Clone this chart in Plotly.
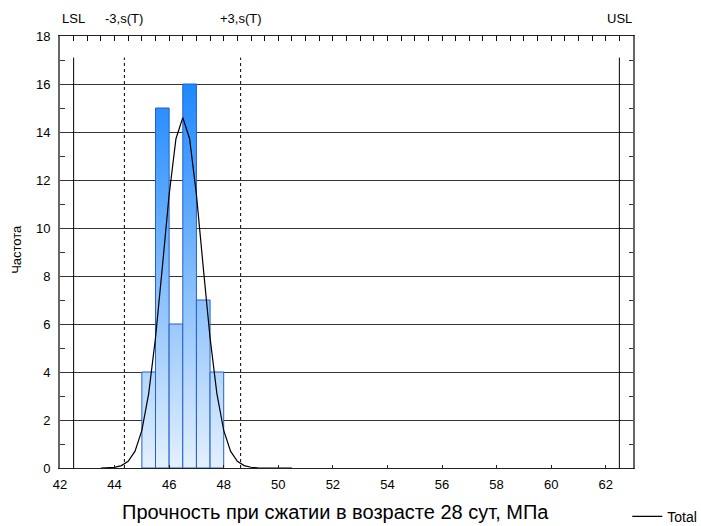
import plotly.graph_objects as go

# ---- data ----
bin_left = [45.0, 45.5, 46.0, 46.5, 47.0, 47.5]
bin_width = 0.5
counts = [4, 15, 6, 16, 7, 4]

curve_x = [43.5, 43.75, 44.0, 44.25, 44.5, 44.75, 45.0, 45.25, 45.5, 45.75, 46.0, 46.25,
           46.5, 46.75, 47.0, 47.25, 47.5, 47.75, 48.0, 48.25, 48.5, 48.75, 49.0, 49.25,
           49.5, 49.75, 50.0, 50.25, 50.5]
curve_y = [0.0, 0.01, 0.03, 0.10, 0.28, 0.70, 1.57, 3.10, 5.42, 8.36, 11.39, 13.72,
           14.6, 13.72, 11.39, 8.36, 5.42, 3.10, 1.57, 0.70, 0.28, 0.10, 0.03, 0.01,
           0.0, 0.0, 0.0, 0.0, 0.0]

spec_names = ["LSL", "-3,s(T)", "+3,s(T)", "USL"]
spec_x = [42.5, 44.36, 48.62, 62.5]
spec_dash = ["solid", "dot", "dot", "solid"]
spec_top = 17.1

x_ticks = [42, 44, 46, 48, 50, 52, 54, 56, 58, 60, 62]
y_ticks = [0, 2, 4, 6, 8, 10, 12, 14, 16, 18]

x_title = "Прочность при сжатии в возрасте 28 сут, МПа"
y_title = "Частота"
legend_name = "Total"

FONT = "Arial, Liberation Sans, sans-serif"
EDGE = "rgb(35,95,205)"

fig = go.Figure()

# each bar: gradient-filled rectangle built from the bin data
for xl, c in zip(bin_left, counts):
    xr = xl + bin_width
    fig.add_trace(go.Scatter(
        x=[xl, xl, xr, xr, xl], y=[0, c, c, 0, 0], mode="lines", fill="toself",
        line=dict(width=1, color=EDGE),
        fillgradient=dict(type="vertical", start=0, stop=16,
                          colorscale=[[0, "rgb(228,240,253)"], [1, "rgb(30,136,255)"]]),
        showlegend=False, hoverinfo="skip"))

# spec lines
for nm, sx, dsh in zip(spec_names, spec_x, spec_dash):
    fig.add_trace(go.Scatter(x=[sx, sx], y=[0, spec_top], mode="lines",
                             line=dict(color="black", width=1, dash=dsh),
                             showlegend=False, hoverinfo="skip"))
    fig.add_annotation(x=sx, y=1.04, xref="x", yref="paper", text=nm,
                       showarrow=False, font=dict(family=FONT, size=13, color="black"),
                       xanchor="center", yanchor="middle")

# normal curve
fig.add_trace(go.Scatter(x=curve_x, y=curve_y, mode="lines", name=legend_name,
                         line=dict(color="black", width=1.2)))

# transparent copy on the frame axes so the top and right axes get drawn
fig.add_trace(go.Scatter(x=curve_x, y=curve_y, xaxis="x2", yaxis="y2", mode="lines",
                         line=dict(color="rgba(0,0,0,0)", width=0), opacity=0,
                         showlegend=False, hoverinfo="skip"))

fig.add_annotation(x=0.48, y=-0.102, xref="paper", yref="paper", text=x_title,
                   showarrow=False, font=dict(family=FONT, size=20, color="black"),
                   xanchor="center", yanchor="middle")
fig.add_annotation(x=-0.075, y=0.505, xref="paper", yref="paper", text=y_title,
                   textangle=-90, showarrow=False,
                   font=dict(family=FONT, size=13, color="black"),
                   xanchor="center", yanchor="middle")

fig.update_layout(
    width=701, height=526,
    margin=dict(l=60, r=68, t=36, b=58, autoexpand=False),
    paper_bgcolor="white", plot_bgcolor="white",
    font=dict(family=FONT, size=13, color="black"),
    showlegend=True,
    legend=dict(x=0.99, y=-0.113, xanchor="left", yanchor="middle",
                font=dict(family=FONT, size=14, color="black"),
                bgcolor="rgba(0,0,0,0)", borderwidth=0),
    xaxis=dict(range=[42, 63], tickvals=x_ticks, ticks="inside", ticklen=3,
               tickcolor="#222", showline=True, linecolor="#222", linewidth=1,
               showgrid=False, zeroline=False, tickfont=dict(size=13),
               ticklabelstandoff=4),
    xaxis2=dict(range=[42, 63], overlaying="x", side="top", anchor="y2",
                tickvals=x_ticks, ticks="inside", ticklen=5, tickwidth=1,
                tickcolor="#111", showticklabels=False,
                showline=True, linecolor="#222", linewidth=1, showgrid=False,
                zeroline=False,
                minor=dict(tick0=42, dtick=0.5, ticks="inside", ticklen=5,
                           tickwidth=1, tickcolor="#111", showgrid=False)),
    yaxis=dict(range=[0, 18], tickvals=y_ticks, ticks="", showline=True,
               linecolor="#666", linewidth=2, showgrid=True, gridcolor="#333",
               gridwidth=1, zeroline=False, tickfont=dict(size=13),
               ticklabelstandoff=5,
               minor=dict(tick0=1, dtick=2, ticks="inside", ticklen=5,
                          tickcolor="#333", showgrid=False)),
    yaxis2=dict(range=[0, 18], overlaying="y", side="right", anchor="x2",
                showticklabels=False,
                tickvals=y_ticks, ticks="", showline=True, linecolor="#666",
                linewidth=2, showgrid=False, zeroline=False,
                minor=dict(tick0=1, dtick=2, ticks="inside", ticklen=4,
                           tickcolor="#333", showgrid=False)),
)

fig.write_html("out.html")
